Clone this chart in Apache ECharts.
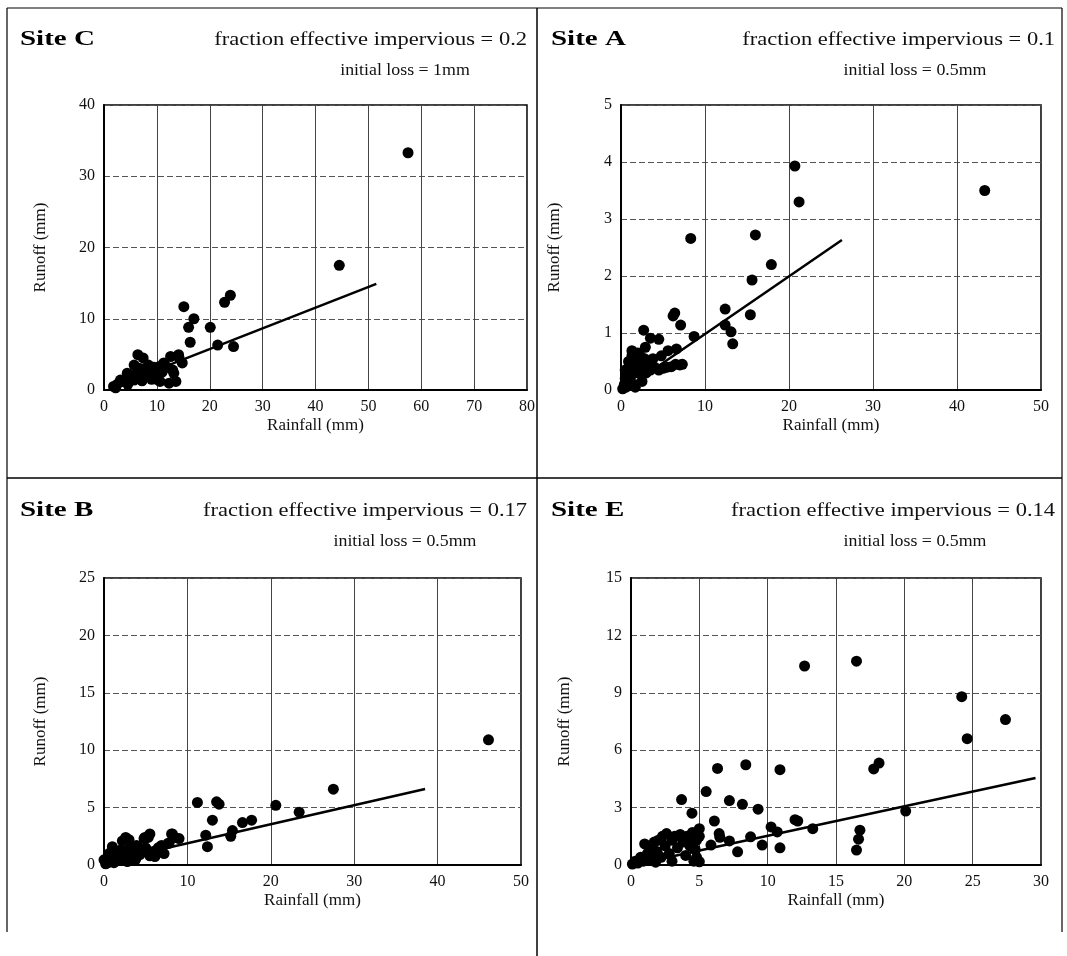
<!DOCTYPE html>
<html><head><meta charset="utf-8">
<script src="https://cdn.jsdelivr.net/npm/echarts@6/dist/echarts.min.js"></script>
<style>html,body{margin:0;padding:0;background:#fff}#c{width:1067px;height:956px}</style>
</head><body><div id="c"></div>
<script>
// ---------- DATA ----------
const siteC = [[57.5,33.3],[44.5,17.5],[15.1,11.7],[17.0,10.0],[16.0,8.8],[20.1,8.8],[16.3,6.7],[22.8,12.3],[23.9,13.3],[21.5,6.3],[24.5,6.1],
 [6.4,4.95],[7.4,4.5],[5.7,3.5],[8.4,3.5],[11.3,3.8],[12.6,4.7],[14.1,4.95],[14.2,4.5],[13.2,2.35],[13.6,1.2],[12.3,0.95],[9.65,2.35],[7.7,1.9],
 [4.4,2.35],[3.1,1.4],[1.8,0.5],[5.7,1.4],[10.6,1.2],[9.0,1.5],[6.7,2.6],[6.4,3.1],[2.5,0.8],[3.5,1.2],[4.0,1.5],[5.0,2.0],[6.0,2.2],[7.0,3.0],
 [8.0,2.0],[9.5,3.2],[10.0,1.5],[11.0,2.5],[12.0,3.2],[13.0,2.8],[2.2,0.3],[4.5,0.8],[7.2,1.3],[8.8,2.8],[10.5,3.3],[14.8,3.8]];
const siteA = [[43.3,3.5],[20.7,3.93],[21.2,3.3],[8.3,2.66],[16.0,2.72],[17.9,2.2],[15.6,1.93],[12.4,1.42],[15.4,1.32],[12.4,1.14],[13.1,1.02],
 [13.3,0.81],[8.7,0.94],[6.4,1.35],[6.2,1.3],[7.1,1.14],[2.7,1.05],[3.5,0.91],[4.5,0.89],[1.3,0.69],[2.9,0.75],[5.6,0.69],[6.6,0.72],[7.0,0.44],
 [6.0,0.41],[0.2,0.02],[0.4,0.1],[0.5,0.2],[0.6,0.05],[0.8,0.3],[1.0,0.15],[1.0,0.4],[1.2,0.25],[1.5,0.35],[1.5,0.1],[1.8,0.45],[2.0,0.3],
 [2.2,0.5],[2.5,0.4],[2.8,0.55],[3.0,0.3],[3.3,0.45],[3.5,0.35],[4.0,0.4],[4.5,0.35],[5.0,0.38],[5.5,0.4],[6.5,0.45],[7.3,0.45],[2.5,0.15],
 [1.7,0.05],[0.5,0.35],[1.3,0.6],[2.3,0.6],[3.8,0.55],[4.8,0.6],[0.9,0.5],[2.0,0.65]];
const siteB = [[46.1,10.9],[11.2,5.45],[13.5,5.5],[13.8,5.3],[20.6,5.2],[23.4,4.6],[27.5,6.6],[13.0,3.9],[16.6,3.7],[17.7,3.9],[12.2,2.6],[12.4,1.6],
 [15.4,3.0],[15.2,2.5],[8.2,2.7],[9.0,2.3],[7.8,1.9],[7.2,1.0],[5.3,2.4],[4.8,2.3],[2.7,2.3],[3.0,2.2],[0.0,0.45],[2.2,2.1],[2.6,2.4],[4.9,2.4],
 [5.5,2.7],[8.1,2.7],[8.5,2.4],[6.9,1.7],[7.7,1.9],[6.1,0.74],[4.3,1.16],[3.45,0.6],[1.0,1.6],[3.9,1.7],[0.2,0.1],[0.3,0.4],[0.5,0.2],[0.8,0.6],
 [1.0,0.3],[1.0,0.9],[1.3,1.2],[1.5,0.5],[1.8,0.8],[2.0,1.3],[2.0,0.4],[2.3,1.0],[2.5,0.6],[3.0,1.4],[3.3,0.9],[3.5,1.2],[3.8,0.5],[4.0,1.6],
 [4.3,0.9],[5.0,1.5],[5.5,0.8],[6.0,1.2],[6.5,1.5],[1.2,0.2],[2.8,0.3],[0.6,1.0]];
const siteE = [[12.7,10.4],[16.5,10.65],[24.2,8.8],[24.6,6.6],[27.4,7.6],[6.33,5.05],[8.4,5.24],[10.9,4.98],[17.76,5.02],[18.15,5.33],[3.7,3.42],
 [5.5,3.84],[7.2,3.37],[8.15,3.17],[9.3,2.92],[4.46,2.71],[6.1,2.3],[12.0,2.37],[12.2,2.3],[10.25,1.99],[10.7,1.73],[13.3,1.9],[6.45,1.64],
 [6.5,1.45],[7.2,1.26],[8.75,1.47],[9.6,1.04],[10.9,0.9],[7.8,0.69],[5.85,1.04],[16.75,1.82],[16.65,1.35],[16.5,0.78],[20.1,2.82],[5.0,1.9],
 [5.0,1.5],[5.0,0.17],[2.6,1.64],[3.6,1.6],[2.3,1.5],[1.0,1.1],[4.3,1.5],[0.1,0.05],[0.3,0.2],[0.5,0.1],[0.7,0.4],[0.9,0.2],[1.2,0.6],[1.4,0.9],
 [1.5,0.3],[1.7,1.2],[1.9,0.7],[2.0,1.3],[2.2,0.4],[2.5,1.0],[2.8,0.6],[3.0,1.3],[3.2,1.5],[3.4,0.9],[3.8,1.2],[4.0,0.5],[4.1,1.5],[4.3,1.0],
 [4.5,1.7],[4.7,0.8],[4.8,1.3],[4.6,0.2],[3.0,0.2],[1.8,0.15],[4.8,0.4]];
const fitC = [[1.6,0.4],[51.5,14.9]];
const fitA = [[0.3,0.0],[26.3,2.63]];
const fitB = [[0.3,0.29],[38.5,6.62]];
const fitE = [[0.1,0.0],[29.6,4.55]];
const titles = ['Site C','Site A','Site B','Site E'];
const subtitles1 = ['fraction effective impervious = 0.2','fraction effective impervious = 0.1','fraction effective impervious = 0.17','fraction effective impervious = 0.14'];
const subtitles2 = ['initial loss = 1mm','initial loss = 0.5mm','initial loss = 0.5mm','initial loss = 0.5mm'];
const xMax = [80,50,50,30], xInt = [10,10,10,5];
const yMax = [40,5,25,15], yInt = [10,1,5,3];
const xName = 'Rainfall (mm)', yName = 'Runoff (mm)';

// ---------- LAYOUT ----------
const FONT = '"Liberation Serif","DejaVu Serif",serif';
const grids = [
  {left:104, top:105, width:423, height:285},
  {left:621, top:105, width:420, height:285},
  {left:104, top:578, width:417, height:287},
  {left:631, top:578, width:410, height:287}
];
const panels = [
  {tx:20, ty:40, sx:527, sy1:40, sx2:405, sy2:71},
  {tx:551, ty:40, sx:1055, sy1:40, sx2:915, sy2:71},
  {tx:20, ty:511, sx:527, sy1:511, sx2:405, sy2:542},
  {tx:551, ty:511, sx:1055, sy1:511, sx2:915, sy2:542}
];
const yNameGap = [55, 58, 55, 58];
const datas = [siteC, siteA, siteB, siteE];
const fits = [fitC, fitA, fitB, fitE];

const xAxes = [], yAxes = [], series = [], graphics = [];
grids.forEach((g,i)=>{
  xAxes.push({gridIndex:i, type:'value', min:0, max:xMax[i], interval:xInt[i],
    name:xName, nameLocation:'middle', nameGap:27, nameTextStyle:{fontFamily:FONT,fontSize:17,color:'#111'},
    axisLine:{show:true,onZero:false,lineStyle:{color:'#000',width:2}}, axisTick:{show:false},
    axisLabel:{fontFamily:FONT,fontSize:16,color:'#111',margin:9},
    splitLine:{show:true,lineStyle:{color:'#444',width:1}}});
  yAxes.push({gridIndex:i, type:'value', min:0, max:yMax[i], interval:yInt[i],
    name:yName, nameLocation:'middle', nameGap:yNameGap[i], nameRotate:90, nameTextStyle:{fontFamily:FONT,fontSize:17,color:'#111'},
    axisLine:{show:true,onZero:false,lineStyle:{color:'#000',width:2}}, axisTick:{show:false},
    axisLabel:{fontFamily:FONT,fontSize:16,color:'#111',margin:9},
    splitLine:{show:true,lineStyle:{color:'#555',width:1,type:[6,3]}}});
  series.push({type:'scatter', xAxisIndex:i, yAxisIndex:i, data:datas[i], symbolSize:11,
    itemStyle:{color:'#000',opacity:1}, silent:true, z:3});
  series.push({type:'line', xAxisIndex:i, yAxisIndex:i, data:fits[i], showSymbol:false, symbol:'none',
    lineStyle:{color:'#000',width:2.5}, silent:true, z:4});
  const p = panels[i];
  graphics.push({type:'text', x:p.tx, y:p.ty, scaleX:1.38, style:{text:titles[i], font:'bold 21px '+FONT, fill:'#000', textAlign:'left', textVerticalAlign:'middle'}});
  graphics.push({type:'text', x:p.sx, y:p.sy1, scaleX:1.25, style:{text:subtitles1[i], font:'18px '+FONT, fill:'#111', textAlign:'right', textVerticalAlign:'middle'}});
  graphics.push({type:'text', x:p.sx2, y:p.sy2, scaleX:1.05, style:{text:subtitles2[i], font:'17px '+FONT, fill:'#111', textAlign:'center', textVerticalAlign:'middle'}});
});
// frame lines
const L = (x1,y1,x2,y2,w)=>({type:'line', shape:{x1,y1,x2,y2}, style:{stroke:'#000', lineWidth:w||1.2}});
graphics.push(L(7,8,1062,8,1.2), L(7,8,7,932,1.2), L(1062,8,1062,932,1.2), L(537,8,537,956,1.5), L(7,478,1062,478,1.5));

const chart = echarts.init(document.getElementById('c'), null, {renderer:'canvas'});
chart.setOption({
  animation:false, backgroundColor:'#fff',
  grid: grids.map(g=>Object.assign({show:true, borderColor:'#000', borderWidth:1.5, backgroundColor:'transparent'}, g)),
  xAxis:xAxes, yAxis:yAxes, series:series, graphic:graphics
});
</script></body></html>
